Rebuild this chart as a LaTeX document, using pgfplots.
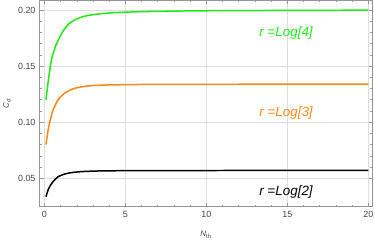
\documentclass[border=0pt]{standalone}
\usepackage{pgfplots}
\pgfplotsset{compat=1.18}
\usepackage{fontspec}
\setmainfont{Liberation Sans}
\definecolor{mgreen}{RGB}{30,235,20}
\definecolor{morange}{RGB}{255,135,20}
\definecolor{framegray}{RGB}{150,150,150}
\definecolor{gridgray}{RGB}{222,222,222}
\definecolor{labgray}{RGB}{70,70,70}
\begin{document}
\begin{tikzpicture}
\begin{axis}[
  scale only axis, width=333bp, height=206.7bp,
  xmin=-0.3, xmax=20.26, ymin=0.02464, ymax=0.2089,
  xtick={0,5,10,15,20}, ytick={0.05,0.10,0.15,0.20},
  minor x tick num=4, minor y tick num=4,
  yticklabel style={/pgf/number format/fixed, /pgf/number format/fixed zerofill, /pgf/number format/precision=2, xshift=-0.5bp},
  /pgf/number format/assume math mode=true,
  tick align=inside, major tick length=4bp, minor tick length=2.2bp,
  axis line style={framegray, line width=0.6pt},
  every tick/.style={framegray, line width=0.5pt},
  grid=major, grid style={gridgray, line width=0.6pt},
  ticklabel style={font=\fontsize{9}{10}\selectfont, text=labgray},
  xticklabel style={yshift=-1bp},
  every axis x label/.style={at={(axis description cs:0.5,0)}, anchor=center, yshift=-28.3bp, font=\fontsize{8}{9}\selectfont, text=labgray},
  every axis y label/.style={at={(axis description cs:0,0.5)}, anchor=center, rotate=90, yshift=32.5bp, font=\fontsize{8}{9}\selectfont, text=labgray},
  xlabel={\textit{N}\textsubscript{th}},
  ylabel={\textit{C}\textsubscript{\textit{d}}},
]
\addplot[mgreen, line width=1.5pt, smooth] coordinates {
(0.1,0.120) (0.2,0.132) (0.3,0.143) (0.43,0.155) (0.6,0.164) (0.85,0.173)
(1.15,0.181) (1.5,0.1875) (2.0,0.1920) (2.5,0.1945) (3.0,0.1958) (3.7,0.1970)
(4.6,0.1978) (6,0.1985) (8,0.1990) (10,0.1993) (13,0.1995) (16,0.1997) (20,0.1998)};
\addplot[morange, line width=1.5pt, smooth] coordinates {
(0.1,0.080) (0.2,0.090) (0.3,0.098) (0.4,0.104) (0.54,0.111) (0.7,0.116) (0.85,0.120)
(1.05,0.1232) (1.26,0.1259) (1.5,0.1280) (1.88,0.1302) (2.3,0.1315) (2.7,0.1323)
(3.5,0.1330) (4.5,0.1333) (6,0.1336) (8,0.1337) (12,0.1338) (20,0.1339)};
\addplot[black, line width=1.5pt, smooth] coordinates {
(0.1,0.0335) (0.23,0.0396) (0.35,0.0432) (0.54,0.0470) (0.7,0.0495) (0.85,0.0514)
(1.05,0.0527) (1.26,0.0538) (1.5,0.0546) (1.88,0.0554) (2.4,0.0560) (2.9,0.0563)
(3.7,0.0566) (4.6,0.0567) (6,0.0568) (10,0.0569) (20,0.0570)};
\node[text=mgreen, font=\fontsize{13.5}{15}\selectfont\itshape] at (axis cs:14.92,0.1795) {r =Log[4]};
\node[text=morange, font=\fontsize{13.5}{15}\selectfont\itshape] at (axis cs:14.92,0.1083) {r =Log[3]};
\node[text=black, font=\fontsize{13.5}{15}\selectfont\itshape] at (axis cs:14.92,0.0380) {r =Log[2]};
\coordinate (sw) at (rel axis cs:0,0);
\coordinate (ne) at (rel axis cs:1,1);
\end{axis}
\pgfresetboundingbox
\path[use as bounding box] ([shift={(-39.5bp,-33.3bp)}]sw) rectangle ([shift={(1.5bp,0bp)}]ne);
\end{tikzpicture}
\end{document}
